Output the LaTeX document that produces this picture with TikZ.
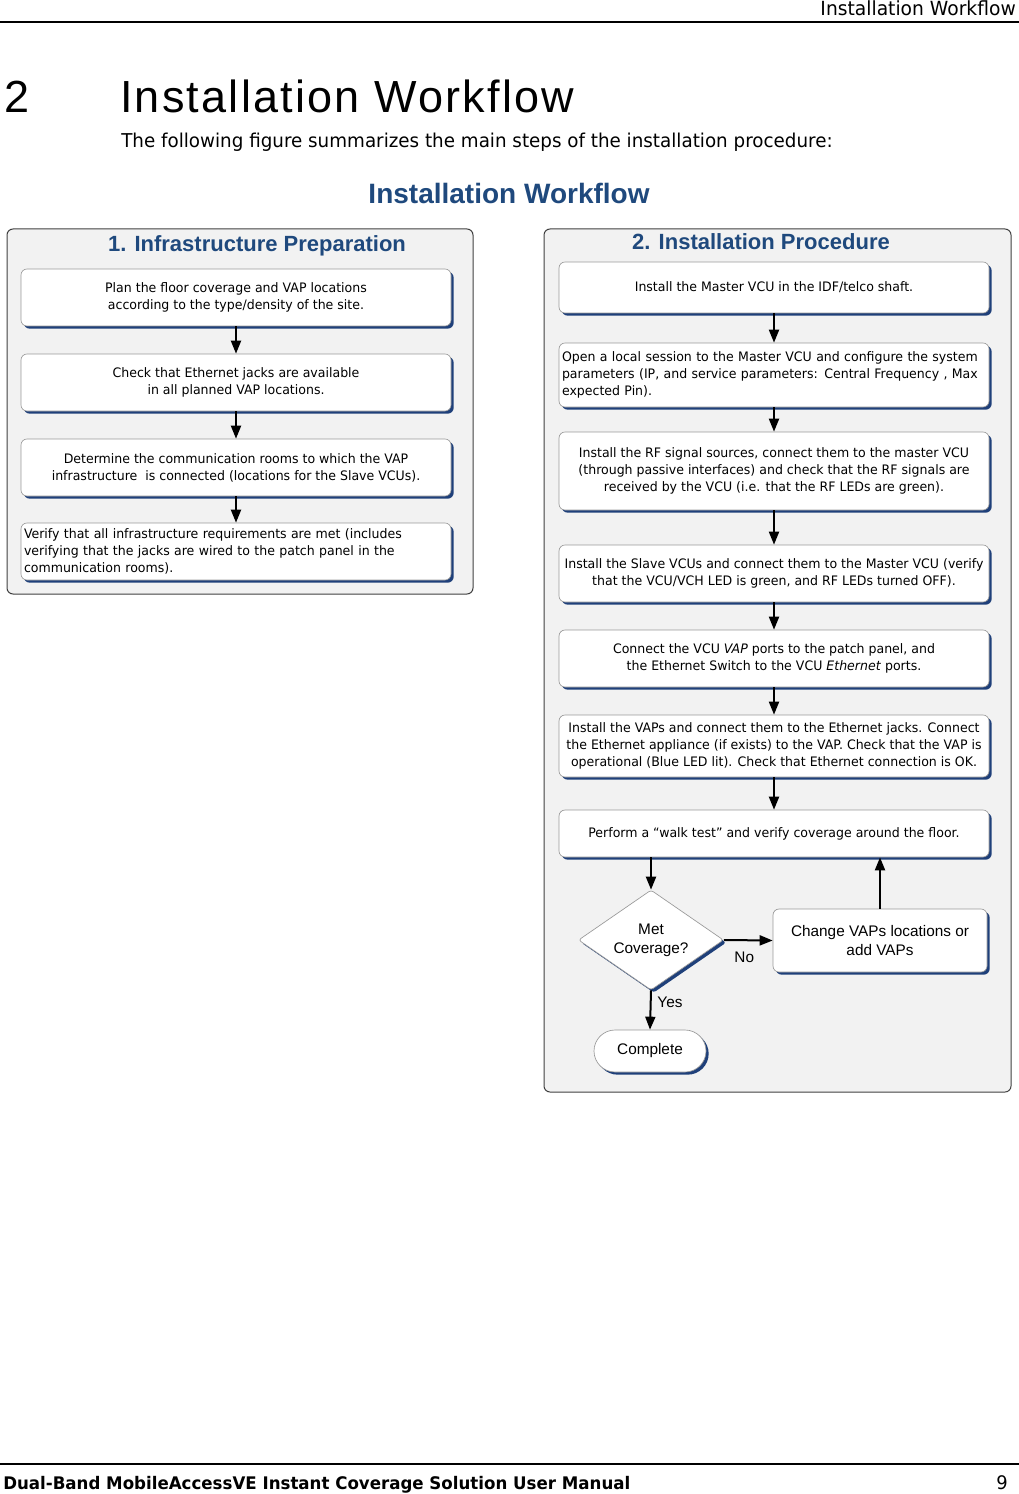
\documentclass[tikz,border=0pt]{standalone}
\usepackage{fontspec}
\usepackage{tikz}
\usetikzlibrary{arrows.meta,shapes.geometric,shadows}
\setmainfont{Liberation Sans}
\newfontfamily\stepfont[FakeStretch=0.96]{DejaVu Sans}
\newfontfamily\headfont[LetterSpace=4.9]{Liberation Sans}
\definecolor{navy}{RGB}{31,64,122}
\definecolor{titleblue}{RGB}{31,73,125}
\definecolor{panelgray}{RGB}{242,242,242}
\tikzset{
    panel/.style={draw=black!75, line width=0.75pt, fill=panelgray, rounded corners=4.5pt},
    stepbox/.style={draw=black!40, line width=0.5pt, fill=white, rounded corners=4.5pt,
        minimum width=322.5pt, inner sep=2.25pt, align=center,
        font=\stepfont\fontsize{9.8}{12.75}\selectfont,
        drop shadow={shadow xshift=2pt, shadow yshift=-2pt, fill=navy, opacity=1}},
    leftbox/.style={stepbox, align=left, text width=318pt},
    flow/.style={line width=1.5pt, -{Triangle[length=9.75pt,width=7.5pt]}},
    ptitle/.style={font=\bfseries\fontsize{16.5}{18}\selectfont, text=titleblue},
    armtext/.style={font=\fontsize{11.5}{14.25}\selectfont, align=center}
}
\begin{document}
\begin{tikzpicture}[x=0.75pt, y=-0.75pt]
    \useasboundingbox (0,0) rectangle (1019,1494);
    \node[anchor=base east, inner sep=0pt, font=\stepfont\fontsize{14.6}{18}\selectfont] (H) at (1016,16) {Installation Workflow};
    \draw[line width=1.1pt] (0,22) -- (1019,22);
    \node[anchor=base west, inner sep=0pt, font=\fontsize{33.75}{40}\selectfont] (N) at (4,113) {2};
    \node[anchor=base west, inner sep=0pt, font=\headfont\fontsize{33.75}{40}\selectfont] (S) at (120,113) {Installation Workflow};
    \node[anchor=base west, inner sep=0pt, font=\stepfont\fontsize{14.3}{16}\selectfont] (B) at (121,148) {The following figure summarizes the main steps of the installation procedure:};
    \node[font=\bfseries\fontsize{21}{24}\selectfont, text=titleblue] (F) at (509,193) {Installation Workflow};

    \draw[panel] (7,229) rectangle (473,594);
    \draw[panel] (544,229) rectangle (1011,1092);
    \node[ptitle] (T1) at (257,246) {1. Infrastructure Preparation};
    \node[ptitle] (T2) at (761,242) {2. Installation Procedure};

    \node[stepbox, minimum height=42.75pt] (P1) at (236,297.5) {Plan the floor coverage and VAP locations\\according to the type/density of the site.};
    \node[stepbox, minimum height=42.75pt] (P2) at (236,382.5) {Check that Ethernet jacks are available\\in all planned VAP locations.};
    \node[stepbox, minimum height=42.75pt] (P3) at (236,467.5) {Determine the communication rooms to which the VAP\\infrastructure~ is connected (locations for the Slave VCUs).};
    \node[leftbox, minimum height=42.75pt] (P4) at (236,551.5) {Verify that all infrastructure requirements are met (includes\\verifying that the jacks are wired to the patch panel in the\\communication rooms).};

    \node[stepbox, minimum height=38.25pt] (I1) at (774,287.5) {Install the Master VCU in the IDF/telco shaft.};
    \node[leftbox, minimum height=48pt] (I2) at (774,375) {Open a local session to the Master VCU and configure the system\\parameters (IP, and service parameters: Central Frequency , Max\\expected Pin).};
    \node[stepbox, minimum height=58.5pt] (I3) at (774,471) {Install the RF signal sources, connect them to the master VCU\\(through passive interfaces) and check that the RF signals are\\received by the VCU (i.e. that the RF LEDs are green).};
    \node[stepbox, minimum height=42.75pt] (I4) at (774,573.5) {Install the Slave VCUs and connect them to the Master VCU (verify\\that the VCU/VCH LED is green, and RF LEDs turned OFF).};
    \node[stepbox, minimum height=42.75pt] (I5) at (774,658.5) {Connect the VCU \textit{VAP} ports to the patch panel, and\\the Ethernet Switch to the VCU \textit{Ethernet} ports.};
    \node[stepbox, minimum height=46.5pt] (I6) at (774,746) {Install the VAPs and connect them to the Ethernet jacks. Connect\\the Ethernet appliance (if exists) to the VAP. Check that the VAP is\\operational (Blue LED lit). Check that Ethernet connection is OK.};
    \node[stepbox, minimum height=35.25pt] (I7) at (774,833.5) {Perform a “walk test” and verify coverage around the floor.};

    \node[stepbox, armtext, shape=diamond, aspect=1.45, minimum width=108.75pt, minimum height=75pt, inner sep=0pt, rounded corners=2pt] (M) at (651,940) {Met\\Coverage?};
    \node[stepbox, armtext, minimum width=160.5pt, minimum height=47.25pt] (V) at (880,940.5) {Change VAPs locations or\\add VAPs};
    \node[stepbox, armtext, minimum width=84pt, minimum height=31.5pt, rounded corners=15.75pt] (E) at (650,1051) {Complete};

    \draw[flow] (P1) -- (P2);
    \draw[flow] (P2) -- (P3);
    \draw[flow] (P3) -- (P4);
    \draw[flow] (I1) -- (I2);
    \draw[flow] (I2) -- (I3);
    \draw[flow] (I3) -- (I4);
    \draw[flow] (I4) -- (I5);
    \draw[flow] (I5) -- (I6);
    \draw[flow] (I6) -- (I7);
    \draw[flow] (I7.south -| M.north) -- (M.north);
    \draw[flow] (M.east) -- (V.west) node[midway, below=5pt, xshift=-3pt, armtext] {No};
    \draw[flow] (V.north) -- (V.north |- I7.south);
    \draw[flow] (M.south) -- (E.north) node[pos=0.3, right=1pt, armtext] {Yes};

    \draw[line width=1.1pt] (0,1464) -- (1019,1464);
    \node[anchor=base west, inner sep=0pt, font=\stepfont\bfseries\fontsize{13}{16}\selectfont] (U) at (3,1489) {Dual-Band MobileAccessVE Instant Coverage Solution User Manual};
    \node[anchor=base east, inner sep=0pt, font=\stepfont\fontsize{14}{16}\selectfont] (G) at (1008,1489) {9};
\end{tikzpicture}
\end{document}
